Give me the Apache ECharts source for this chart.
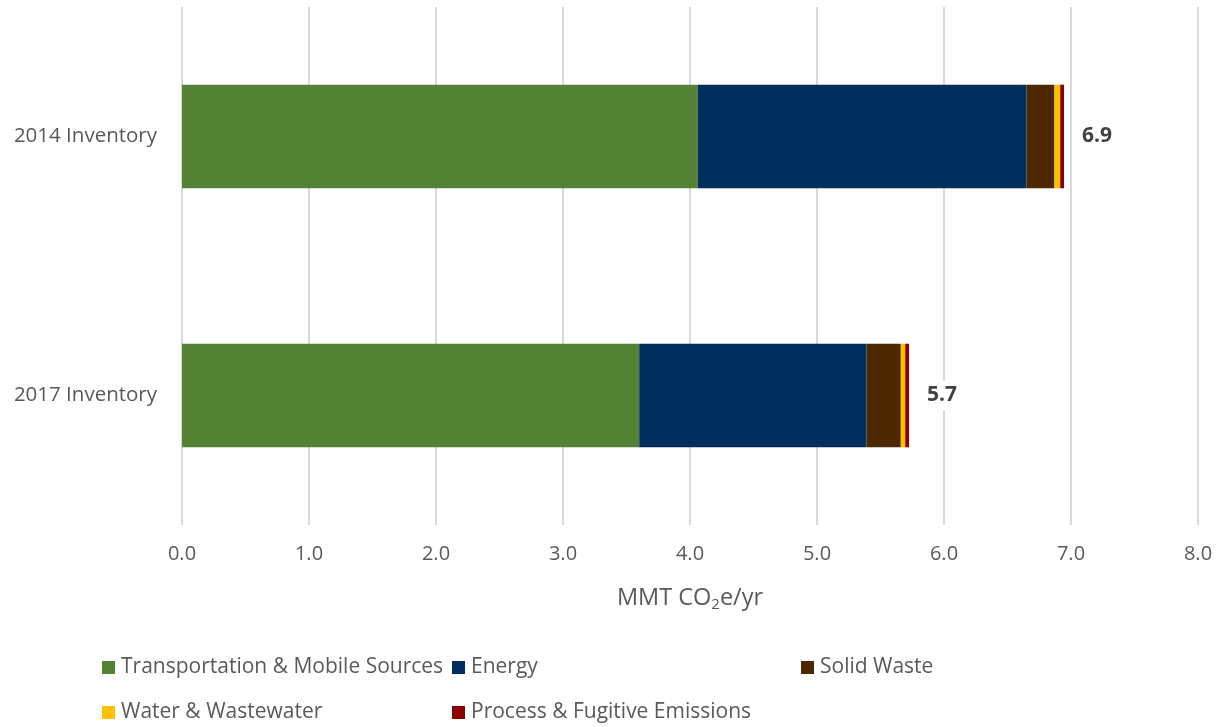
<!DOCTYPE html>
<html>
<head>
<meta charset="utf-8">
<script src="https://cdn.jsdelivr.net/npm/echarts@6/dist/echarts.min.js"></script>
<style>
  html, body { margin: 0; padding: 0; background: #fff; }
  #main { width: 1228px; height: 727px; }
</style>
</head>
<body>
<div id="main"></div>
<script>
var categories = ['2014 Inventory', '2017 Inventory'];
var transport = [4.06, 3.60];
var energy = [2.59, 1.79];
var solidWaste = [0.22, 0.27];
var water = [0.045, 0.035];
var process = [0.03, 0.03];
var totals = ['6.9', '5.7'];
var xTicks = ['0.0', '1.0', '2.0', '3.0', '4.0', '5.0', '6.0', '7.0', '8.0'];

var textColor = '#595959';
var font = 'Open Sans';

function bar(name, data, color) {
    return {
        name: name,
        type: 'bar',
        stack: 'total',
        barWidth: '40%',
        data: data,
        itemStyle: { color: color },
        emphasis: { disabled: true }
    };
}

var series = [
    bar('Transportation & Mobile Sources', transport, '#548235'),
    bar('Energy', energy, '#002f5e'),
    bar('Solid Waste', solidWaste, '#4b2800'),
    bar('Water & Wastewater', water, '#ffc000'),
    bar('Process & Fugitive Emissions', process, '#8b0000')
];
// total label at the end of the stack
series[4].label = {
    show: true,
    position: 'right',
    distance: 12,
    formatter: function (p) { return totals[p.dataIndex]; },
    color: '#404040',
    fontFamily: font,
    fontWeight: 'bold',
    fontSize: 21,
    backgroundColor: '#fff',
    padding: [4, 6]
};

function legend(name, left, top) {
    return {
        data: [name],
        left: left,
        top: top,
        padding: 0,
        itemWidth: 13,
        itemHeight: 13,
        icon: 'rect',
        selectedMode: false,
        textStyle: { color: textColor, fontFamily: font, fontSize: 21, padding: [0, 0, 0, 1] }
    };
}

var chart = echarts.init(document.getElementById('main'));
chart.setOption({
    animation: false,
    grid: { left: 182, right: 30, top: 7, bottom: 202 },
    xAxis: {
        type: 'value',
        min: 0,
        max: 8,
        interval: 1,
        axisLine: { show: false },
        axisTick: { show: false },
        splitLine: { lineStyle: { color: '#d9d9d9', width: 2 } },
        axisLabel: {
            color: textColor,
            fontFamily: font,
            fontSize: 20,
            margin: 19,
            formatter: function (v) { return xTicks[Math.round(v)]; }
        },
        name: '{a|MMT CO}{b|2}{a|e/yr}',
        nameLocation: 'middle',
        nameGap: 58,
        nameTextStyle: {
            rich: {
                a: { color: textColor, fontFamily: font, fontSize: 23.5, lineHeight: 30 },
                b: { color: textColor, fontFamily: font, fontSize: 15, lineHeight: 30, padding: [13, 0, 0, 0] }
            }
        }
    },
    yAxis: {
        type: 'category',
        data: categories,
        inverse: true,
        axisLine: { show: false },
        axisTick: { show: false },
        axisLabel: { color: textColor, fontFamily: font, fontSize: 20.5, margin: 25 }
    },
    legend: [
        legend('Transportation & Mobile Sources', 102, 657),
        legend('Energy', 452, 657),
        legend('Solid Waste', 801, 657),
        legend('Water & Wastewater', 102, 702),
        legend('Process & Fugitive Emissions', 452, 702)
    ],
    series: series
});
</script>
</body>
</html>
